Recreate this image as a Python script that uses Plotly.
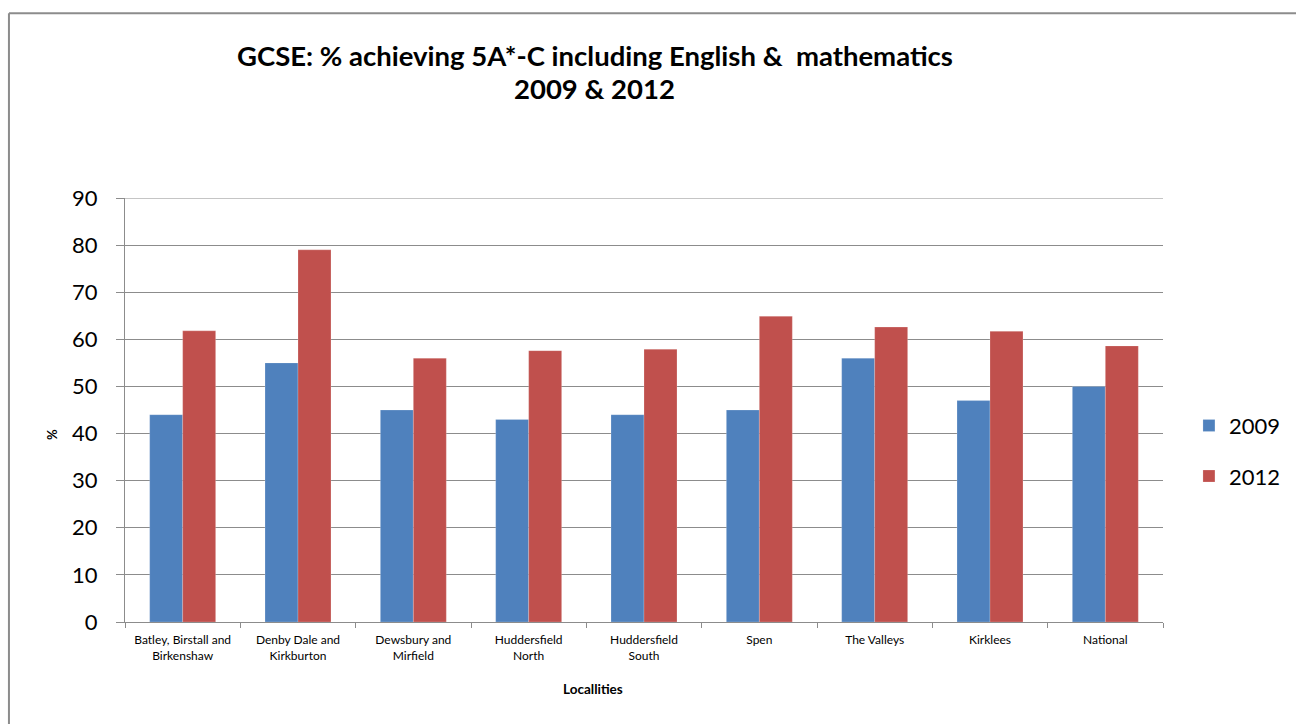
import plotly.graph_objects as go

categories = [
    "Batley, Birstall and<br>Birkenshaw",
    "Denby Dale and<br>Kirkburton",
    "Dewsbury and<br>Mirfield",
    "Huddersfield<br>North",
    "Huddersfield<br>South",
    "Spen",
    "The Valleys",
    "Kirklees",
    "National",
]
values_2009 = [44, 55, 45, 43, 44, 45, 56, 47, 50]
values_2012 = [61.8, 79, 56, 57.6, 57.9, 64.9, 62.6, 61.7, 58.6]
y_ticks = [0, 10, 20, 30, 40, 50, 60, 70, 80, 90]
title_lines = ["GCSE: % achieving 5A*-C including English &  mathematics", "2009 & 2012"]

FONT = "Lato"
BLUE = "#4F81BD"
RED = "#C0504D"
GRID = "#8C8C8C"

fig = go.Figure()
fig.add_trace(go.Bar(
    x=categories, y=values_2009, name="2009", legendgroup="a",
    marker=dict(color=BLUE, line=dict(color="rgba(255,255,255,0.4)", width=0.5)),
))
fig.add_trace(go.Bar(
    x=categories, y=values_2012, name="2012", legendgroup="b",
    marker=dict(color=RED, line=dict(color="rgba(255,255,255,0.4)", width=0.5)),
))

fig.update_layout(
    width=1296, height=724,
    margin=dict(l=125, r=133, t=198, b=102, autoexpand=False),
    paper_bgcolor="white", plot_bgcolor="white",
    barmode="group", bargap=0.428, bargroupgap=0,
    font=dict(family=FONT, color="black"),
    showlegend=True,
    legend=dict(
        x=1.025, xanchor="left", y=0.403, yanchor="middle",
        font=dict(family=FONT, size=22, color="black"),
        tracegroupgap=19, bgcolor="rgba(0,0,0,0)",
    ),
    xaxis=dict(
        showgrid=False, showline=True, linecolor=GRID, linewidth=1,
        ticks="outside", tickson="boundaries", ticklen=5, tickcolor=GRID,
        tickfont=dict(family=FONT, size=12, color="black"),
        tickangle=0, ticklabelstandoff=7,
    ),
    yaxis=dict(
        range=[0, 90], tickvals=y_ticks, showgrid=True, gridcolor=GRID, gridwidth=1,
        showline=True, linecolor=GRID, linewidth=1,
        ticks="outside", ticklen=8, tickcolor=GRID,
        tickfont=dict(family=FONT, size=22, color="black"),
        ticklabelstandoff=14, zeroline=False,
    ),
    annotations=[
        dict(text="<b>" + title_lines[0] + "</b>", x=0.453, y=1.337, xref="paper", yref="paper",
             showarrow=False, font=dict(family=FONT, size=27.5, color="black"),
             xanchor="center", yanchor="middle"),
        dict(text="<b>" + title_lines[1] + "</b>", x=0.452, y=1.259, xref="paper", yref="paper",
             showarrow=False, font=dict(family=FONT, size=27.5, color="black"),
             xanchor="center", yanchor="middle"),
        dict(text="<b>%</b>", x=-0.0703, y=0.441, xref="paper", yref="paper",
             showarrow=False, textangle=-90, font=dict(family=FONT, size=13, color="black"),
             xanchor="center", yanchor="middle"),
        dict(text="<b>Locallities</b>", x=0.451, y=-0.158, xref="paper", yref="paper",
             showarrow=False, font=dict(family=FONT, size=13.5, color="black"),
             xanchor="center", yanchor="middle"),
    ],
    shapes=[
        dict(type="line", xref="paper", yref="y", x0=0, x1=1, y0=y_ticks[-1], y1=y_ticks[-1],
             line=dict(color=GRID, width=1), layer="below"),
        dict(type="line", xref="paper", yref="paper", x0=-0.1118, x1=1.13, y0=1.436, y1=1.436,
             line=dict(color="#8C8C8C", width=2)),
        dict(type="line", xref="paper", yref="paper", x0=-0.1118, x1=-0.1118, y0=1.436, y1=-0.25,
             line=dict(color="#8C8C8C", width=2)),
    ],
)

fig.write_html("out.html")
